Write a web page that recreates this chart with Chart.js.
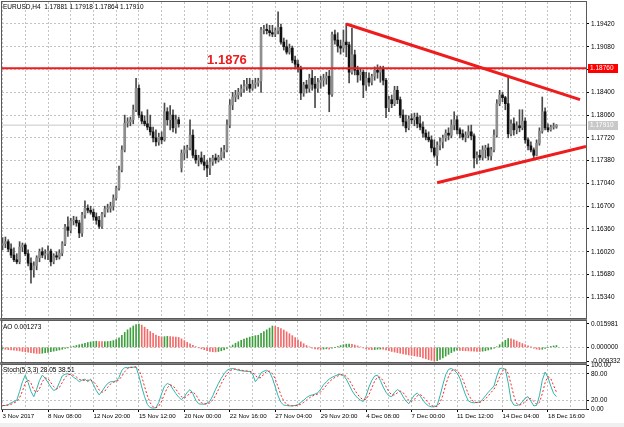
<!DOCTYPE html>
<html>
<head>
<meta charset="utf-8">
<script src="https://cdn.jsdelivr.net/npm/chart.js@4.4.1/dist/chart.umd.min.js"></script>
<style>
body { margin: 0; background: #fff; }
#wrap { position: relative; width: 624px; height: 427px; overflow: hidden; background: #fff; }
#wrap canvas { position: absolute; left: 0; }
.split { position: absolute; left: 0; width: 587px; height: 3px; background: #7f7f7f; }
.lbl { position: absolute; left: 3px; font: 6.5px "Liberation Sans", Arial, sans-serif; color: #000; white-space: pre; line-height: 8px; }
</style>
</head>
<body>
<div id="wrap">
  <div class="split" style="top:318px"></div>
  <div class="split" style="top:362px"></div>
  <div style="position:absolute;left:0;top:423px;width:624px;height:4px;background:#f0f0f0"></div>
  <canvas id="cMain" width="624" height="320" style="top:0"></canvas>
  <canvas id="cAo" width="624" height="47" style="top:318px"></canvas>
  <canvas id="cSto" width="624" height="62" style="top:362px"></canvas>
  <div class="lbl" style="top:3px">EURUSD,H4  1.17881 1.17918 1.17864 1.17910</div>
  <div class="lbl" style="top:323px">AO 0.001273</div>
  <div class="lbl" style="top:366px">Stoch(5,3,3) 28.05 38.51</div>
</div>
<script>
// EURUSD H4, 3 Nov - 19 Dec 2017
var timeLabels = ["3 Nov 2017", "8 Nov 08:00", "12 Nov 20:00", "15 Nov 12:00", "20 Nov 00:00", "22 Nov 16:00",
    "27 Nov 04:00", "29 Nov 20:00", "4 Dec 08:00", "7 Dec 00:00", "11 Dec 12:00", "14 Dec 04:00", "18 Dec 16:00"];
var gridBars = [0, 8, 16, 24, 32, 40, 48, 56, 64, 72, 80, 88, 96, 104, 112, 120, 128, 136, 144, 152, 160, 168, 176, 184, 192, 200];

var opens = [
    1.1612, 1.1614, 1.1617, 1.1606, 1.1597, 1.1590, 1.1587, 1.1609, 1.1612, 1.1599,
    1.1585, 1.1575, 1.1581, 1.1593, 1.1602, 1.1597, 1.1599, 1.1603, 1.1587, 1.1596,
    1.1594, 1.1600, 1.1614, 1.1639, 1.1634, 1.1648, 1.1649, 1.1645, 1.1630, 1.1657,
    1.1667, 1.1664, 1.1661, 1.1654, 1.1649, 1.1640, 1.1658, 1.1666, 1.1667, 1.1670,
    1.1682, 1.1697, 1.1724, 1.1754, 1.1794, 1.1796, 1.1799, 1.1814, 1.1846, 1.1806,
    1.1797, 1.1793, 1.1788, 1.1781, 1.1772, 1.1766, 1.1773, 1.1769, 1.1811, 1.1799,
    1.1806, 1.1787, 1.1799, 1.1727, 1.1749, 1.1754, 1.1757, 1.1776, 1.1746, 1.1739,
    1.1742, 1.1736, 1.1731, 1.1727, 1.1736, 1.1742, 1.1739, 1.1743, 1.1751, 1.1754,
    1.1791, 1.1821, 1.1833, 1.1836, 1.1840, 1.1845, 1.1849, 1.1852, 1.1846, 1.1852,
    1.1854, 1.1857, 1.1933, 1.1934, 1.1932, 1.1929, 1.1927, 1.1932, 1.1937, 1.1915,
    1.1908, 1.1900, 1.1906, 1.1888, 1.1882, 1.1875, 1.1839, 1.1851, 1.1846, 1.1861,
    1.1852, 1.1846, 1.1855, 1.1858, 1.1861, 1.1864, 1.1837, 1.1926, 1.1918, 1.1909,
    1.1906, 1.1915, 1.1911, 1.1870, 1.1896, 1.1873, 1.1866, 1.1870, 1.1851, 1.1861,
    1.1855, 1.1864, 1.1873, 1.1870, 1.1875, 1.1858, 1.1817, 1.1829, 1.1823, 1.1843,
    1.1829, 1.1806, 1.1796, 1.1787, 1.1800, 1.1799, 1.1803, 1.1793, 1.1788, 1.1779,
    1.1773, 1.1769, 1.1757, 1.1746, 1.1761, 1.1766, 1.1772, 1.1779, 1.1776, 1.1791,
    1.1799, 1.1784, 1.1778, 1.1773, 1.1776, 1.1781, 1.1775, 1.1742, 1.1746, 1.1743,
    1.1754, 1.1757, 1.1745, 1.1754, 1.1776, 1.1823, 1.1836, 1.1832, 1.1823, 1.1778,
    1.1793, 1.1784, 1.1790, 1.1787, 1.1797, 1.1769, 1.1760, 1.1754, 1.1746, 1.1764,
    1.1782, 1.1811, 1.1787, 1.1784, 1.1788, 1.17881
];
var highs = [
    1.1623, 1.1624, 1.1620, 1.1614, 1.1608, 1.1599, 1.1617, 1.1615, 1.1614, 1.1605,
    1.1593, 1.1587, 1.1596, 1.1606, 1.1608, 1.1605, 1.1611, 1.1606, 1.1599, 1.1602,
    1.1605, 1.1617, 1.1643, 1.1654, 1.1652, 1.1655, 1.1654, 1.1649, 1.1661, 1.1678,
    1.1672, 1.1670, 1.1666, 1.1660, 1.1655, 1.1661, 1.1670, 1.1673, 1.1676, 1.1687,
    1.1700, 1.1730, 1.1760, 1.1806, 1.1802, 1.1803, 1.1821, 1.1861, 1.1851, 1.1811,
    1.1805, 1.1814, 1.1806, 1.1788, 1.1784, 1.1779, 1.1781, 1.1824, 1.1817, 1.1820,
    1.1814, 1.1806, 1.1803, 1.1754, 1.1760, 1.1761, 1.1799, 1.1784, 1.1754, 1.1746,
    1.1751, 1.1746, 1.1739, 1.1742, 1.1746, 1.1748, 1.1746, 1.1757, 1.1761, 1.1799,
    1.1829, 1.1840, 1.1843, 1.1846, 1.1851, 1.1858, 1.1861, 1.1861, 1.1858, 1.1861,
    1.1861, 1.1937, 1.1940, 1.1942, 1.1940, 1.1940, 1.1936, 1.1960, 1.1942, 1.1921,
    1.1918, 1.1912, 1.1909, 1.1894, 1.1888, 1.1879, 1.1855, 1.1858, 1.1867, 1.1873,
    1.1864, 1.1861, 1.1864, 1.1867, 1.1870, 1.1873, 1.1930, 1.1933, 1.1929, 1.1918,
    1.1933, 1.1943, 1.1915, 1.1936, 1.1903, 1.1879, 1.1876, 1.1873, 1.1870, 1.1869,
    1.1867, 1.1878, 1.1881, 1.1879, 1.1879, 1.1861, 1.1834, 1.1836, 1.1849, 1.1849,
    1.1833, 1.1814, 1.1806, 1.1805, 1.1808, 1.1809, 1.1809, 1.1805, 1.1796, 1.1784,
    1.1781, 1.1775, 1.1769, 1.1766, 1.1772, 1.1776, 1.1784, 1.1787, 1.1799, 1.1811,
    1.1805, 1.1787, 1.1784, 1.1781, 1.1790, 1.1791, 1.1778, 1.1751, 1.1754, 1.1760,
    1.1761, 1.1763, 1.1758, 1.1784, 1.1829, 1.1843, 1.1840, 1.1834, 1.1863, 1.1799,
    1.1802, 1.1796, 1.1814, 1.1814, 1.1802, 1.1772, 1.1766, 1.1757, 1.1769, 1.1787,
    1.1833, 1.1817, 1.1793, 1.1791, 1.1794, 1.17918
];
var lows = [
    1.1605, 1.1608, 1.1602, 1.1593, 1.1587, 1.1584, 1.1584, 1.1602, 1.1596, 1.1581,
    1.1555, 1.1564, 1.1575, 1.1587, 1.1593, 1.1591, 1.1590, 1.1581, 1.1584, 1.1590,
    1.1591, 1.1596, 1.1611, 1.1625, 1.1630, 1.1642, 1.1640, 1.1623, 1.1625, 1.1652,
    1.1660, 1.1658, 1.1649, 1.1643, 1.1637, 1.1637, 1.1654, 1.1661, 1.1661, 1.1664,
    1.1679, 1.1694, 1.1721, 1.1751, 1.1788, 1.1790, 1.1793, 1.1811, 1.1802, 1.1793,
    1.1790, 1.1784, 1.1776, 1.1766, 1.1760, 1.1761, 1.1763, 1.1767, 1.1791, 1.1784,
    1.1781, 1.1779, 1.1788, 1.1721, 1.1739, 1.1742, 1.1754, 1.1742, 1.1734, 1.1730,
    1.1733, 1.1724, 1.1714, 1.1717, 1.1731, 1.1734, 1.1736, 1.1739, 1.1742, 1.1751,
    1.1787, 1.1814, 1.1826, 1.1830, 1.1834, 1.1840, 1.1843, 1.1840, 1.1843, 1.1846,
    1.1849, 1.1840, 1.1927, 1.1927, 1.1924, 1.1923, 1.1923, 1.1927, 1.1912, 1.1903,
    1.1897, 1.1897, 1.1884, 1.1876, 1.1870, 1.1829, 1.1834, 1.1839, 1.1840, 1.1843,
    1.1817, 1.1840, 1.1846, 1.1849, 1.1852, 1.1811, 1.1834, 1.1912, 1.1900, 1.1897,
    1.1900, 1.1893, 1.1854, 1.1867, 1.1866, 1.1855, 1.1858, 1.1832, 1.1843, 1.1849,
    1.1851, 1.1858, 1.1861, 1.1855, 1.1851, 1.1802, 1.1811, 1.1817, 1.1820, 1.1823,
    1.1802, 1.1790, 1.1781, 1.1784, 1.1793, 1.1790, 1.1787, 1.1784, 1.1773, 1.1769,
    1.1766, 1.1751, 1.1743, 1.1731, 1.1754, 1.1757, 1.1767, 1.1769, 1.1772, 1.1784,
    1.1778, 1.1772, 1.1769, 1.1766, 1.1772, 1.1769, 1.1727, 1.1733, 1.1739, 1.1739,
    1.1742, 1.1739, 1.1739, 1.1751, 1.1773, 1.1820, 1.1826, 1.1814, 1.1772, 1.1775,
    1.1776, 1.1778, 1.1781, 1.1784, 1.1764, 1.1754, 1.1751, 1.1742, 1.1745, 1.1761,
    1.1779, 1.1784, 1.1781, 1.1782, 1.1785, 1.17864
];
var closes = [
    1.1614, 1.1617, 1.1606, 1.1597, 1.1590, 1.1587, 1.1609, 1.1612, 1.1599, 1.1585,
    1.1575, 1.1581, 1.1593, 1.1602, 1.1597, 1.1599, 1.1603, 1.1587, 1.1596, 1.1594,
    1.1600, 1.1614, 1.1639, 1.1634, 1.1648, 1.1649, 1.1645, 1.1630, 1.1657, 1.1667,
    1.1664, 1.1661, 1.1654, 1.1649, 1.1640, 1.1658, 1.1666, 1.1667, 1.1670, 1.1682,
    1.1697, 1.1724, 1.1754, 1.1794, 1.1796, 1.1799, 1.1814, 1.1846, 1.1806, 1.1797,
    1.1793, 1.1788, 1.1781, 1.1772, 1.1766, 1.1773, 1.1769, 1.1811, 1.1799, 1.1806,
    1.1787, 1.1799, 1.1793, 1.1749, 1.1754, 1.1757, 1.1776, 1.1746, 1.1739, 1.1742,
    1.1736, 1.1731, 1.1727, 1.1736, 1.1742, 1.1739, 1.1743, 1.1751, 1.1754, 1.1791,
    1.1821, 1.1833, 1.1836, 1.1840, 1.1845, 1.1849, 1.1852, 1.1846, 1.1852, 1.1854,
    1.1857, 1.1933, 1.1934, 1.1932, 1.1929, 1.1927, 1.1932, 1.1937, 1.1915, 1.1908,
    1.1900, 1.1906, 1.1888, 1.1882, 1.1875, 1.1839, 1.1851, 1.1846, 1.1861, 1.1852,
    1.1846, 1.1855, 1.1858, 1.1861, 1.1864, 1.1837, 1.1926, 1.1918, 1.1909, 1.1906,
    1.1915, 1.1911, 1.1870, 1.1896, 1.1873, 1.1866, 1.1870, 1.1851, 1.1861, 1.1855,
    1.1864, 1.1873, 1.1870, 1.1875, 1.1858, 1.1817, 1.1829, 1.1823, 1.1843, 1.1829,
    1.1806, 1.1796, 1.1787, 1.1800, 1.1799, 1.1803, 1.1793, 1.1788, 1.1779, 1.1773,
    1.1769, 1.1757, 1.1746, 1.1761, 1.1766, 1.1772, 1.1779, 1.1776, 1.1791, 1.1799,
    1.1784, 1.1778, 1.1773, 1.1776, 1.1781, 1.1775, 1.1742, 1.1746, 1.1743, 1.1754,
    1.1757, 1.1745, 1.1754, 1.1776, 1.1823, 1.1836, 1.1832, 1.1823, 1.1778, 1.1793,
    1.1784, 1.1790, 1.1787, 1.1797, 1.1769, 1.1760, 1.1754, 1.1746, 1.1764, 1.1782,
    1.1811, 1.1787, 1.1784, 1.1788, 1.1788, 1.17910
];

var ao = [
    -0.0010, -0.0013, -0.0016, -0.0018, -0.0020, -0.0021, -0.0024, -0.0028, -0.0030, -0.0033,
    -0.0036, -0.0039, -0.0041, -0.0042, -0.0040, -0.0037, -0.0034, -0.0030, -0.0026, -0.0022,
    -0.0018, -0.0013, -0.0008, -0.0002, 0.0003, 0.0008, 0.0013, 0.0018, 0.0022, 0.0028,
    0.0033, 0.0037, 0.0040, 0.0042, 0.0040, 0.0039, 0.0039, 0.0040, 0.0042, 0.0046,
    0.0053, 0.0065, 0.0082, 0.0102, 0.0120, 0.0133, 0.0146, 0.0156, 0.015981, 0.0152,
    0.0138, 0.0123, 0.0108, 0.0095, 0.0084, 0.0076, 0.0072, 0.0073, 0.0075, 0.0074,
    0.0072, 0.0070, 0.0068, 0.0058, 0.0046, 0.0034, 0.0024, 0.0013, 0.0005, -0.0003,
    -0.0010, -0.0016, -0.0022, -0.0027, -0.0030, -0.0031, -0.0028, -0.0023, -0.0017, -0.0008,
    0.0004, 0.0016, 0.0028, 0.0038, 0.0048, 0.0056, 0.0064, 0.0070, 0.0076, 0.0080,
    0.0083, 0.0095, 0.0108, 0.0120, 0.0132, 0.0146, 0.0143, 0.0136, 0.0128, 0.0118,
    0.0106, 0.0093, 0.0080, 0.0066, 0.0052, 0.0038, 0.0025, 0.0013, 0.0003, -0.0005,
    -0.0010, -0.0013, -0.0014, -0.0012, -0.0010, -0.0012, -0.0006, 0.0000, 0.0006, 0.0012,
    0.0018, 0.0022, 0.0023, 0.0020, 0.0016, 0.0010, 0.0003, -0.0004, -0.0010, -0.0014,
    -0.0016, -0.0015, -0.0013, -0.0012, -0.0013, -0.0017, -0.0023, -0.0028, -0.0032, -0.0036,
    -0.0040, -0.0044, -0.0048, -0.0052, -0.0055, -0.0058, -0.0061, -0.0064, -0.0072, -0.0078,
    -0.0084, -0.0089, -0.009332, -0.0091, -0.0083, -0.0072, -0.0060, -0.0048, -0.0036, -0.0026,
    -0.0020, -0.0021, -0.0022, -0.0023, -0.0024, -0.0025, -0.0026, -0.0027, -0.0028, -0.0026,
    -0.0023, -0.0018, -0.0012, -0.0005, 0.0004, 0.0018, 0.0034, 0.0048, 0.0060, 0.0059,
    0.0052, 0.0043, 0.0034, 0.0026, 0.0018, 0.0010, 0.0002, -0.0006, -0.0012, -0.0015,
    -0.0013, -0.0008, 0.0000, 0.0006, 0.0010, 0.001273
];

var stochK = [
    8, 8, 10, 14, 17, 20, 40, 62, 77, 60,
    40, 28, 45, 65, 77, 70, 60, 50, 42, 45,
    60, 75, 79, 80, 78, 72, 68, 62, 66, 68,
    62, 68, 55, 42, 32, 40, 50, 58, 62, 62,
    64, 72, 88, 94, 94, 95, 95, 96, 75, 50,
    28, 10, 3, 2, 3, 15, 35, 52, 58, 55,
    45, 35, 27, 21, 28, 38, 44, 35, 20, 12,
    11, 11, 13, 18, 30, 45, 58, 70, 80, 88,
    91, 92, 90, 88, 87, 86, 86, 85, 80, 62,
    70, 82, 86, 88, 84, 70, 50, 30, 15, 9,
    8, 7, 7, 8, 10, 15, 20, 26, 30, 32,
    34, 37, 45, 55, 62, 68, 72, 75, 78, 79,
    76, 68, 55, 42, 32, 25, 20, 17, 30, 50,
    65, 75, 77, 65, 50, 38, 30, 28, 38, 44,
    40, 28, 18, 12, 22, 32, 36, 30, 20, 12,
    7, 5, 5, 8, 30, 55, 78, 90, 92, 88,
    82, 70, 50, 32, 18, 15, 14, 15, 16, 22,
    30, 38, 45, 52, 75, 92, 93, 90, 60, 20,
    9, 8, 10, 16, 25, 28, 18, 7, 8, 30,
    65, 84, 72, 52, 35.5, 28.05
];
var stochD = [
    8, 8, 8.7, 10.7, 13.7, 17, 25.7, 40.7, 59.7, 66.3,
    59, 42.7, 37.7, 46, 62.3, 70.7, 69, 60, 50.7, 45.7,
    49, 60, 71.3, 78, 79, 76.7, 72.7, 67.3, 65.3, 65.3,
    65.3, 66, 61.7, 55, 43, 38, 40.7, 49.3, 56.7, 60.7,
    62.7, 66, 74.7, 84.7, 92, 94.3, 94.7, 95.3, 88.7, 73.7,
    51, 29.3, 13.7, 5, 2.7, 6.7, 17.7, 34, 48.3, 55,
    52.7, 45, 35.7, 27.7, 25.3, 29, 36.7, 39, 33, 22.3,
    14.3, 11.3, 11.7, 14, 20.3, 31, 44.3, 57.7, 69.3, 79.3,
    86.3, 90.3, 91, 90, 88.3, 87, 86.3, 85.7, 83.7, 75.7,
    70.7, 71.3, 79.3, 85.3, 86, 80.7, 68, 50, 31.7, 18,
    10.7, 8, 7.3, 7.3, 8.3, 11, 15, 20.3, 25.3, 29.3,
    32, 34.3, 38.7, 45.7, 54, 61.7, 67.3, 71.7, 75, 77.3,
    77.7, 74.3, 66.3, 55, 43, 33, 25.7, 20.7, 22.3, 32.3,
    48.3, 63.3, 72.3, 72.3, 64, 51, 39.3, 32, 32, 36.7,
    40.7, 37.3, 28.7, 19.3, 17.3, 22, 30, 32.7, 28.7, 20.7,
    13, 8, 5.7, 6, 14.3, 31, 54.3, 74.3, 86.7, 90,
    87.3, 80, 67.3, 50.7, 33.3, 21.7, 15.7, 14.7, 15, 17.7,
    22.7, 30, 37.7, 45, 57.3, 73, 86.7, 91.7, 81, 56.7,
    29.7, 12.3, 9, 11.3, 17, 23, 23.7, 17.7, 11, 15,
    34.3, 59.7, 73.7, 69.3, 53.2, 38.51
];

var priceTicks = [1.15340, 1.15680, 1.16020, 1.16360, 1.16700, 1.17040, 1.17380, 1.17720, 1.18060, 1.18400, 1.18740, 1.19080, 1.19420];
var aoTicks = [-0.009332, 0, 0.015981];
var stochTicks = [0, 20, 80, 100];

var levelPrice = 1.1876;
var bidPrice = 1.17910;
var trendUpper = [{x: 121, y: 1.1942}, {x: 203.3, y: 1.1829}];
var trendLower = [{x: 153, y: 1.1705}, {x: 205.4, y: 1.1759}];

var X_MIN = -0.2, X_MAX = 205.4;
var GRID = '#c4c4c4';
var NONE = 'rgba(0,0,0,0)';
var FONT = '"Liberation Sans", Arial, sans-serif';

Chart.defaults.font.family = FONT;
Chart.defaults.font.size = 6.5;
Chart.defaults.color = '#000';

var bars = opens.map(function (o, i) { return i; });

function xAxe(showLabels) {
    return {
        type: 'linear', min: X_MIN, max: X_MAX, offset: false,
        afterBuildTicks: function (s) {
            s.ticks = gridBars.map(function (v) { return {value: v}; });
        },
        afterFit: function (s) {
            s.height = showLabels ? 15 : 0;
            s.paddingLeft = 0;
            s.paddingRight = 0;
        },
        border: {display: false, dash: [2, 2]},
        grid: {
            offset: false, color: GRID, drawTicks: showLabels, tickLength: 3,
            tickColor: function (c) { return c.tick && c.tick.value % 16 === 0 ? '#000' : NONE; }
        },
        ticks: {
            display: showLabels, align: 'start', maxRotation: 0, minRotation: 0, autoSkip: false, padding: 1,
            font: {size: 6.2},
            callback: function (v) { return v % 16 === 0 ? timeLabels[v / 16] : ''; }
        }
    };
}

function yAxe(min, max, ticks, digits, gridColor) {
    return {
        position: 'right', min: min, max: max,
        afterBuildTicks: function (s) {
            s.ticks = ticks.map(function (v) { return {value: v}; });
        },
        afterFit: function (s) {
            s.width = 38;
            s.paddingTop = 0;
            s.paddingBottom = 0;
        },
        border: {display: false, dash: [2, 2]},
        grid: {color: gridColor, tickLength: 3, tickColor: '#000'},
        ticks: {
            padding: 2, autoSkip: false,
            callback: function (v) { return Number(v).toFixed(digits); }
        }
    };
}

var frame = {
    id: 'frame',
    afterDraw: function (chart) {
        var a = chart.chartArea, ctx = chart.ctx;
        ctx.save();
        ctx.strokeStyle = '#5a5a5a';
        ctx.lineWidth = 1;
        ctx.strokeRect(a.left - 0.5, a.top - 0.5, a.right - a.left + 1, a.bottom - a.top + 1);
        ctx.restore();
    }
};

function priceBox(ctx, ys, v, bg, fg) {
    var py = Math.round(ys.getPixelForValue(v));
    ctx.save();
    ctx.fillStyle = bg;
    ctx.fillRect(ys.left + 2, py - 4, 30, 9);
    ctx.fillStyle = fg;
    ctx.font = '6.5px ' + FONT;
    ctx.textBaseline = 'middle';
    ctx.fillText(v.toFixed(5), ys.left + 4, py + 0.5);
    ctx.restore();
}

var mainDecor = {
    id: 'mainDecor',
    afterDraw: function (chart) {
        var ctx = chart.ctx, ys = chart.scales.y, xs = chart.scales.x;
        priceBox(ctx, ys, levelPrice, '#ff0000', '#ffffff');
        priceBox(ctx, ys, bidPrice, '#c8c8c8', '#ffffff');
        ctx.save();
        ctx.fillStyle = '#ee1c1c';
        ctx.font = 'bold 13px ' + FONT;
        ctx.fillText(levelPrice.toFixed(4), xs.getPixelForValue(72), ys.getPixelForValue(levelPrice) - 4);
        ctx.restore();
    }
};

new Chart(document.getElementById('cMain'), {
    type: 'bar',
    data: {
        datasets: [{
            type: 'line',
            data: [{x: X_MIN, y: bidPrice}, {x: X_MAX, y: bidPrice}],
            borderColor: '#c8c8c8', borderWidth: 1, pointRadius: 0, order: 4
        }, {
            data: bars.map(function (i) { return {x: i, y: [lows[i], highs[i]]}; }),
            backgroundColor: '#4a4a4a', barThickness: 1, grouped: false, order: 3
        }, {
            data: bars.map(function (i) { return {x: i, y: [opens[i], closes[i]]}; }),
            backgroundColor: bars.map(function (i) { return closes[i] >= opens[i] ? '#8e8e8e' : '#111111'; }),
            barThickness: 2, minBarLength: 1, grouped: false, order: 2
        }, {
            type: 'line',
            data: [{x: X_MIN, y: levelPrice}, {x: X_MAX, y: levelPrice}],
            borderColor: '#ee1c1c', borderWidth: 2, pointRadius: 0, order: 1
        }, {
            type: 'line', data: trendUpper,
            borderColor: '#ee1c1c', borderWidth: 3, pointRadius: 0, order: 0
        }, {
            type: 'line', data: trendLower,
            borderColor: '#ee1c1c', borderWidth: 3, pointRadius: 0, order: 0
        }]
    },
    options: {
        responsive: false, devicePixelRatio: 1, animation: false,
        layout: {padding: {left: 2, right: 0, top: 2, bottom: 2}},
        plugins: {legend: {display: false}, tooltip: {enabled: false}},
        scales: {
            x: xAxe(false),
            y: yAxe(1.15031, 1.19748, priceTicks, 5, GRID)
        }
    },
    plugins: [frame, mainDecor]
});

new Chart(document.getElementById('cAo'), {
    type: 'bar',
    data: {
        datasets: [{
            data: bars.map(function (i) { return {x: i, y: ao[i]}; }),
            backgroundColor: bars.map(function (i) { return i > 0 && ao[i] < ao[i - 1] ? '#f26a6a' : '#3f9f3f'; }),
            barThickness: 1, grouped: false
        }]
    },
    options: {
        responsive: false, devicePixelRatio: 1, animation: false,
        layout: {padding: {left: 2, right: 0, top: 3, bottom: 3}},
        plugins: {legend: {display: false}, tooltip: {enabled: false}},
        scales: {
            x: xAxe(false),
            y: yAxe(-0.0100, 0.0180, aoTicks, 6, function (c) { return c.tick && c.tick.value === 0 ? GRID : NONE; })
        }
    },
    plugins: [frame]
});

new Chart(document.getElementById('cSto'), {
    type: 'line',
    data: {
        datasets: [{
            data: bars.map(function (i) { return {x: i, y: stochD[i]}; }),
            borderColor: '#ff2020', borderWidth: 1, borderDash: [2, 2], pointRadius: 0
        }, {
            data: bars.map(function (i) { return {x: i, y: stochK[i]}; }),
            borderColor: '#2fb5ad', borderWidth: 1, pointRadius: 0
        }]
    },
    options: {
        responsive: false, devicePixelRatio: 1, animation: false,
        layout: {padding: {left: 2, right: 0, top: 3, bottom: 0}},
        plugins: {legend: {display: false}, tooltip: {enabled: false}},
        scales: {
            x: xAxe(true),
            y: yAxe(0, 100, stochTicks, 2, function (c) { return c.tick && (c.tick.value === 20 || c.tick.value === 80) ? GRID : NONE; })
        }
    },
    plugins: [frame]
});
</script>
</body>
</html>
